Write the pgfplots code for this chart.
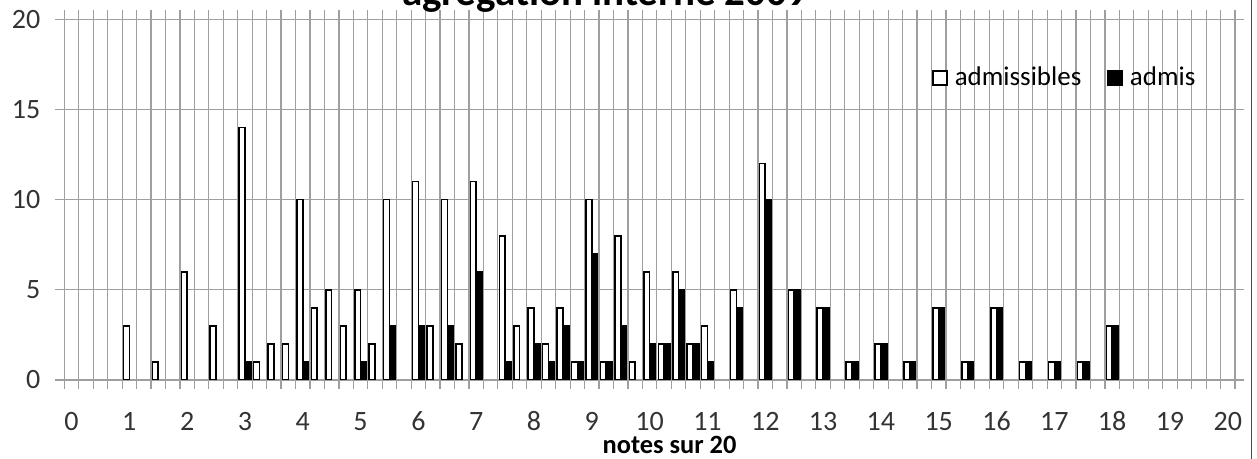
\documentclass[border=0pt]{standalone}
\usepackage{fontspec}
\setmainfont{Carlito}
\usepackage{pgfplots}
\pgfplotsset{compat=1.18}
\begin{document}
\begin{tikzpicture}
\begin{axis}[
  name=ax,
  scale only axis,
  width=585.35pt, height=180.35pt,
  xmin=-0.125, xmax=20.125,
  ymin=0, ymax=20,
  ybar=0pt, bar width=2.9pt,
  xtick={-0.125,0.125,...,20.125},
  xticklabels={},
  extra x ticks={0,1,2,3,4,5,6,7,8,9,10,11,12,13,14,15,16,17,18,19,20},
  extra x tick labels={0,1,2,3,4,5,6,7,8,9,10,11,12,13,14,15,16,17,18,19,20},
  extra x tick style={grid=none, major tick length=0pt, xticklabel style={anchor=base, yshift=-25.3pt, inner sep=0.5pt}},
  ytick={0,5,10,15,20},
  xmajorgrids, ymajorgrids,
  grid style={gray!75, line width=0.6pt},
  axis line style={gray!75, line width=0.6pt},
  tick style={gray!75, line width=0.6pt},
  tick align=outside, major tick length=4.5pt,
  /pgf/number format/assume math mode=true,
  ticklabel style={font=\fontsize{14}{16}\selectfont, text=black!80},
  yticklabel style={xshift=-4pt},
  xlabel={notes sur 20},
  xlabel style={at={(axis description cs:0.517,0)}, anchor=base, yshift=-37pt, inner sep=0pt, font=\bfseries\fontsize{13.2}{16}\selectfont},
  legend columns=2,
  legend style={at={(axis description cs:0.741,0.837)}, anchor=west, draw=none, fill=none, inner sep=0pt,
    font=\fontsize{13.5}{16}\selectfont,
    /tikz/every odd column/.append style={column sep=1.5pt},
    /tikz/every even column/.append style={column sep=11pt}},
  legend image code/.code={\draw[#1, line width=0.8pt] (0pt,-3.5pt) rectangle (7pt,3.5pt);},
]
\addplot[draw=black, fill=white, line width=0.8pt] coordinates {
 (1,3) (1.5,1) (2,6) (2.5,3) (3,14) (3.25,1) (3.5,2) (3.75,2) (4,10) (4.25,4) (4.5,5) (4.75,3)
 (5,5) (5.25,2) (5.5,10) (6,11) (6.25,3) (6.5,10) (6.75,2) (7,11) (7.5,8) (7.75,3)
 (8,4) (8.25,2) (8.5,4) (8.75,1) (9,10) (9.25,1) (9.5,8) (9.75,1) (10,6) (10.25,2) (10.5,6) (10.75,2)
 (11,3) (11.5,5) (12,12) (12.5,5) (13,4) (13.5,1) (14,2) (14.5,1) (15,4) (15.5,1) (16,4) (16.5,1)
 (17,1) (17.5,1) (18,3)
};
\addlegendentry{admissibles}
\addplot[draw=black, fill=black, line width=0.8pt] coordinates {
 (3,1) (4,1) (5,1) (5.5,3) (6,3) (6.5,3) (7,6) (7.5,1) (8,2) (8.25,1) (8.5,3) (8.75,1)
 (9,7) (9.25,1) (9.5,3) (10,2) (10.25,2) (10.5,5) (10.75,2) (11,1) (11.5,4) (12,10) (12.5,5)
 (13,4) (13.5,1) (14,2) (14.5,1) (15,4) (15.5,1) (16,4) (16.5,1) (17,1) (17.5,1) (18,3)
};
\addlegendentry{admis}
\end{axis}
\node[anchor=base, font=\bfseries\fontsize{20.5}{24}\selectfont, inner sep=0pt] at ([xshift=270.4pt,yshift=6.65pt]ax.north west) {agrégation interne 2009};
\pgfresetboundingbox
\path[use as bounding box] ([xshift=-32.15pt,yshift=-39.5pt]ax.south west) rectangle ([xshift=11pt,yshift=9.65pt]ax.north east);
\draw[gray!60!black, line width=0.6pt] ([xshift=8.35pt,yshift=-39.5pt]ax.south east) -- ([xshift=8.35pt,yshift=9.65pt]ax.north east);
\end{tikzpicture}
\end{document}
